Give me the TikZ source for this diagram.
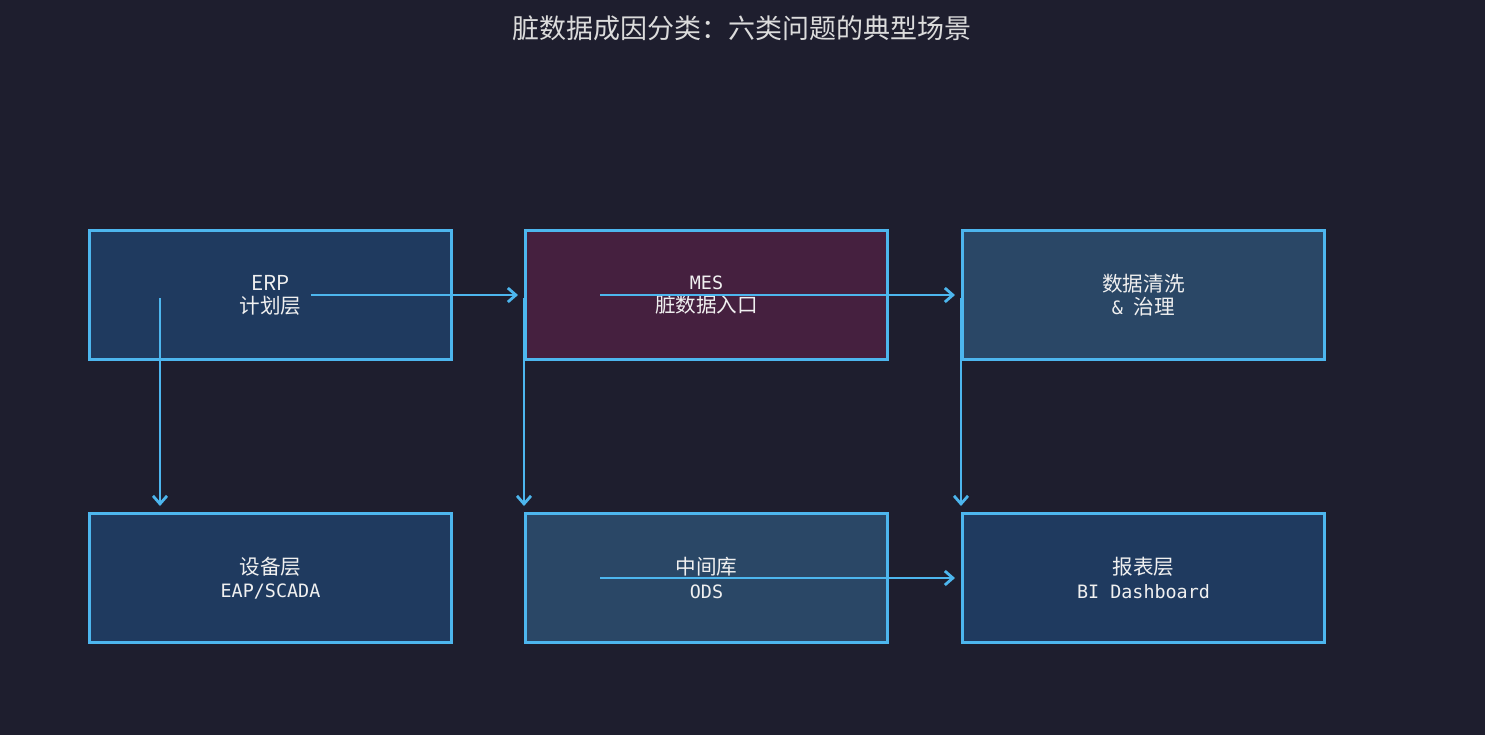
\documentclass[tikz,border=0pt]{standalone}
\usepackage{fontspec}
\setmainfont{Noto Sans CJK SC}
\newfontfamily\monof{DejaVu Sans Mono}
\usetikzlibrary{arrows.meta,calc}
\definecolor{bg}{HTML}{1E1E2E}
\definecolor{edge}{HTML}{4DB6EE}
\definecolor{fillA}{HTML}{1F3A5F}
\definecolor{fillB}{HTML}{45203F}
\definecolor{fillC}{HTML}{2A4766}
\definecolor{txt}{HTML}{F0F0F0}
\definecolor{ttl}{HTML}{DCDCDC}
\newcommand{\lat}[1]{{\monof\fontsize{9.2}{11.5}\selectfont #1}}
\begin{document}
\begin{tikzpicture}[x=0.5pt,y=-0.5pt,
  box/.style={draw=edge,line width=1.5pt,minimum width=181pt,minimum height=64.5pt,inner sep=0pt,
    text=txt,align=center,font=\fontsize{10.3}{11.6}\selectfont},
  arr/.style={draw=edge,line width=1.4pt,-{Straight Barb[length=4pt,width=7pt,line width=1.4pt]}}]
\fill[bg] (0,0) rectangle (1485,735);
\useasboundingbox (0,0) rectangle (1485,735);
\node[text=ttl,font=\fontsize{13.5}{15}\selectfont] (title) at (742,28) {脏数据成因分类：六类问题的典型场景};
\node[box,fill=fillA] (erp) at (270.5,295) {ERP\\计划层};
\node[box,fill=fillB] (mes) at (706.5,295) {\lat{MES}\\脏数据入口};
\node[box,fill=fillC] (clean) at (1143.5,295) {数据清洗\\\lat{\&\ }治理};
\node[box,fill=fillA] (eap) at (270.5,578) {设备层\\\lat{EAP/SCADA}};
\node[box,fill=fillC] (ods) at (706.5,578) {中间库\\\lat{ODS}};
\node[box,fill=fillA] (bi) at (1143.5,578) {报表层\\\lat{BI Dashboard}};
\coordinate (s1) at ($(erp.center)+(40,0)$);
\coordinate (s2) at ($(mes.center)+(-106.5,0)$);
\coordinate (s3) at ($(erp.center)+(-110.5,3)$);
\coordinate (s4) at ($(mes.west)+(0,3)$);
\coordinate (s5) at ($(clean.west)+(0,3)$);
\coordinate (s6) at ($(ods.center)+(-106.5,0)$);
\coordinate (t3) at ($(eap.north)+(0,-6)$);
\coordinate (t4) at ($(ods.north)+(0,-6)$);
\coordinate (t5) at ($(bi.north)+(0,-6)$);
\draw[arr] (s1) -- ([xshift=-3pt]mes.west);
\draw[arr] (s2) -- ([xshift=-3pt]clean.west);
\draw[arr] (s3) -- (s3 |- t3);
\draw[arr] (s4) -- (s4 |- t4);
\draw[arr] (s5) -- (s5 |- t5);
\draw[arr] (s6) -- ([xshift=-3pt]bi.west);
\end{tikzpicture}
\end{document}
